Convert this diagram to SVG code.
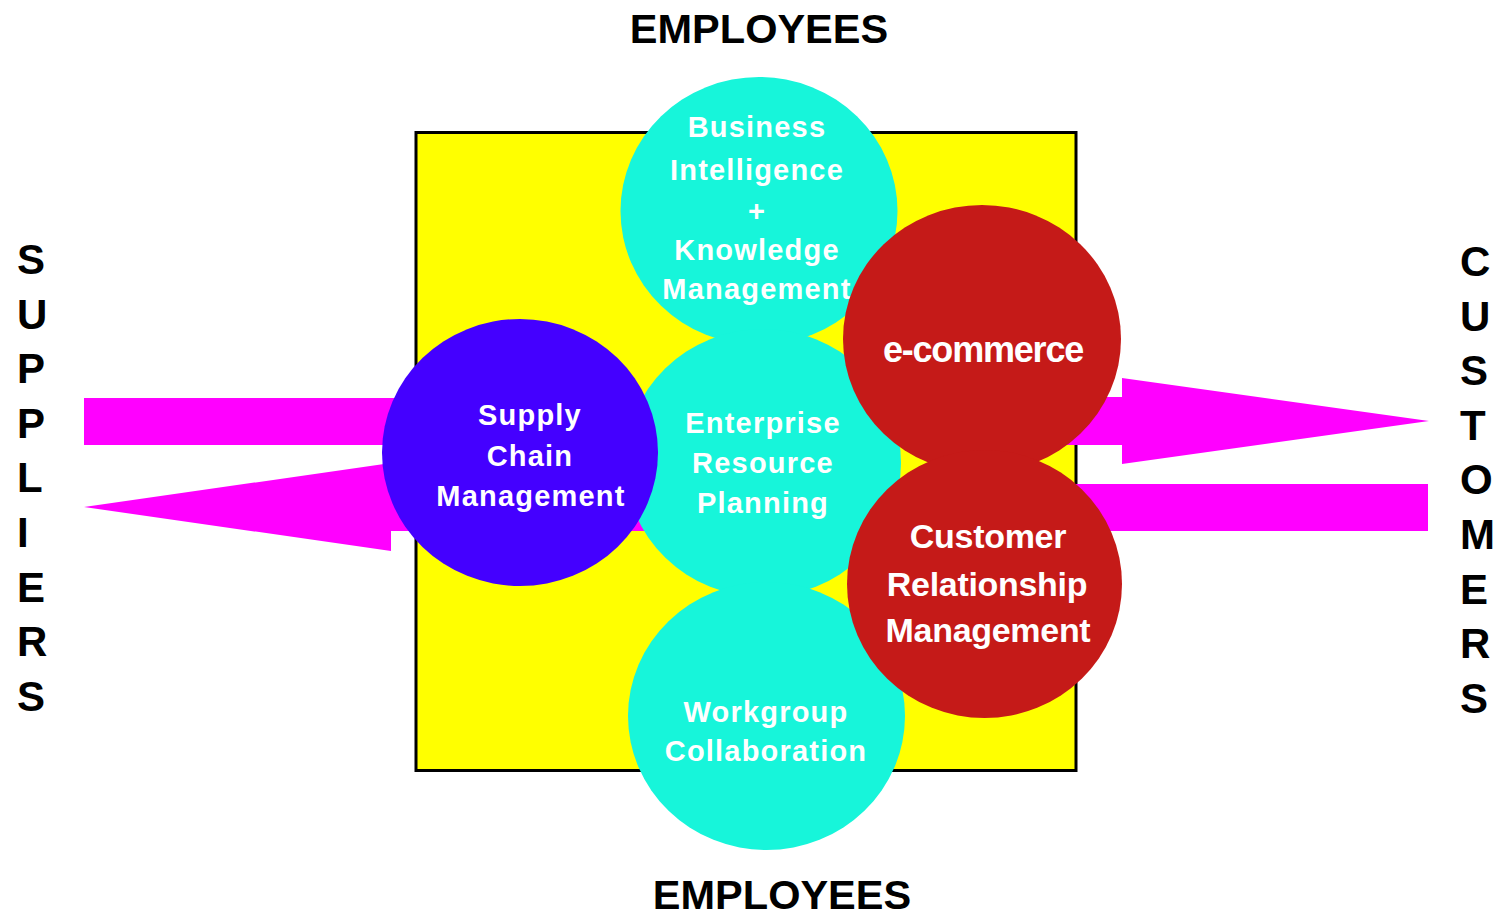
<svg xmlns="http://www.w3.org/2000/svg" width="1495" height="916" viewBox="0 0 1495 916">
<style>
.lbl{font-family:"Liberation Sans",Arial,Helvetica,sans-serif;font-weight:bold;fill:#000;text-anchor:middle}
.vl{font-family:"Liberation Sans",Arial,Helvetica,sans-serif;font-weight:bold;fill:#000;text-anchor:start;font-size:42px}
.ct{font-family:"Liberation Sans",Arial,Helvetica,sans-serif;font-weight:bold;fill:#fff;text-anchor:middle;font-size:29px;letter-spacing:1.2px}
.rt{font-family:"Liberation Sans",Arial,Helvetica,sans-serif;font-weight:bold;fill:#fff;text-anchor:middle;font-size:34px;letter-spacing:-0.3px}
.cyan{fill:#17F5DA}
.red{fill:#C51A18}
.arr{fill:#FF00FF}
</style>
<rect width="1495" height="916" fill="#fff"/>
<g id="frame">
<rect x="416" y="132.5" width="660" height="638" fill="#FFFF00" stroke="#000" stroke-width="3"/>
</g>
<g id="connectors">
<rect class="arr" x="84" y="398" width="336" height="47"/>
<polygon class="arr" points="84,507 391,463 391,484 660,484 660,531 391,531 391,551"/>
<polygon class="arr" points="880,397 1122,397 1122,378 1429,421 1122,464 1122,445 880,445"/>
<rect class="arr" x="900" y="484" width="528" height="47"/>
</g>
<g id="bi">
<ellipse class="cyan" cx="759" cy="211" rx="138.5" ry="134"/>
<text class="ct" x="757" y="137">Business</text>
<text class="ct" x="757" y="180">Intelligence</text>
<text class="ct" x="757" y="221">+</text>
<text class="ct" x="757" y="260">Knowledge</text>
<text class="ct" x="757" y="299">Management</text>
</g>
<g id="erp">
<ellipse class="cyan" cx="763" cy="463" rx="138" ry="134"/>
<text class="ct" x="763" y="433">Enterprise</text>
<text class="ct" x="763" y="473">Resource</text>
<text class="ct" x="763" y="513">Planning</text>
</g>
<g id="wg">
<ellipse class="cyan" cx="766.5" cy="716" rx="138.5" ry="134"/>
<text class="ct" x="766" y="722">Workgroup</text>
<text class="ct" x="766" y="761">Collaboration</text>
</g>
<g id="scm">
<ellipse fill="#4400FF" cx="520" cy="452.5" rx="138" ry="133.5"/>
<text class="ct" x="530" y="425">Supply</text>
<text class="ct" x="530" y="466">Chain</text>
<text class="ct" x="531" y="506">Management</text>
</g>
<g id="ecommerce">
<ellipse class="red" cx="982" cy="339" rx="139" ry="134"/>
<text class="rt" x="983" y="362" style="font-size:36px;letter-spacing:-1.2px">e-commerce</text>
</g>
<g id="crm">
<ellipse class="red" cx="984.5" cy="584" rx="137.5" ry="134"/>
<text class="rt" x="988" y="548">Customer</text>
<text class="rt" x="987" y="596">Relationship</text>
<text class="rt" x="988" y="642">Management</text>
</g>
<g id="labels">
<text class="lbl" x="759" y="43" font-size="41.5">EMPLOYEES</text>
<text class="lbl" x="782" y="909" font-size="41.5">EMPLOYEES</text>
<text class="vl" x="17" y="274">S</text>
<text class="vl" x="17" y="328.6">U</text>
<text class="vl" x="17" y="383.2">P</text>
<text class="vl" x="17" y="437.8">P</text>
<text class="vl" x="17" y="492.4">L</text>
<text class="vl" x="17" y="547">I</text>
<text class="vl" x="17" y="601.6">E</text>
<text class="vl" x="17" y="656.2">R</text>
<text class="vl" x="17" y="710.8">S</text>
<text class="vl" x="1460" y="276">C</text>
<text class="vl" x="1460" y="330.6">U</text>
<text class="vl" x="1460" y="385.2">S</text>
<text class="vl" x="1460" y="439.8">T</text>
<text class="vl" x="1460" y="494.4">O</text>
<text class="vl" x="1460" y="549">M</text>
<text class="vl" x="1460" y="603.6">E</text>
<text class="vl" x="1460" y="658.2">R</text>
<text class="vl" x="1460" y="712.8">S</text>
</g>
</svg>
